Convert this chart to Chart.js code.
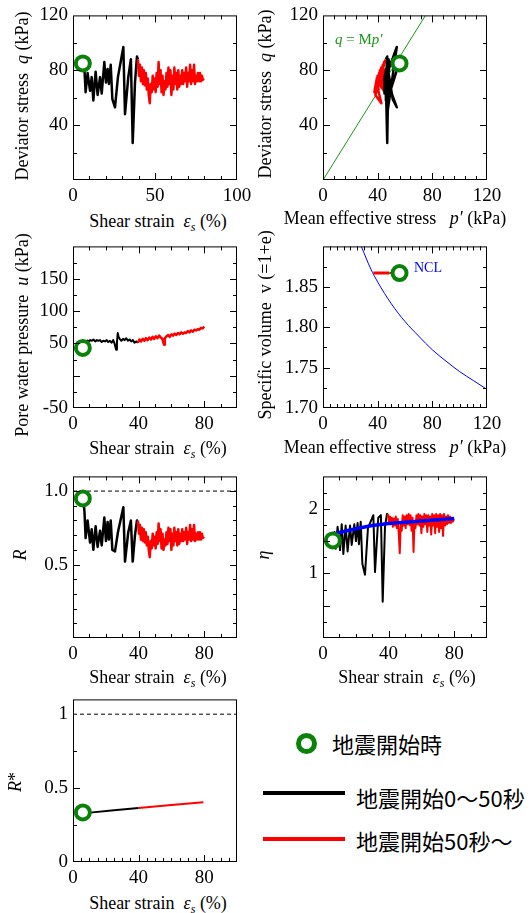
<!DOCTYPE html>
<html>
<head>
<meta charset="utf-8">
<script src="https://cdn.jsdelivr.net/npm/chart.js@4.4.0/dist/chart.umd.min.js"></script>
<style>
  body { margin: 0; background: #fff; }
  #fig { position: relative; width: 531px; height: 913px; overflow: hidden; font-family: "Liberation Serif", "Times New Roman", serif; color: #000; }
  canvas { position: absolute; }
  .xt, .yt { position: absolute; width: 300px; font-size: 18px; line-height: 22px; text-align: center; white-space: nowrap; }
  .yt { transform: rotate(-90deg); }
  sub { font-size: 12px; line-height: 0; vertical-align: -4px; }
  .note { position: absolute; white-space: nowrap; line-height: 16px; }
  .leg { position: absolute; font-family: "Noto Sans CJK JP", sans-serif; font-size: 22px; line-height: 26px; white-space: nowrap; }
</style>
</head>
<body>
<div id="fig"></div>
<script>
// start of earthquake (green circle)
const startEps = [6];
const startQ = [85];
const startP = [56];
const startU = [43];
const startV = [1.867];
const startR = [0.95];
const startEta = [1.51];
const startRs = [0.335];

// 0-50 s (black)
const epsBlack = [6.3, 7.0, 7.7, 8.9, 10.4, 11.4, 12.4, 13.8, 15.0, 16.5, 17.5, 19.1, 20.1, 21.1, 21.9, 23.0, 24.0, 25.6, 27.4, 30.7, 31.7, 33.7, 35.3, 36.4, 37.8, 39.0, 39.6];
const qBlack = [84, 80, 64, 78, 65, 75, 58, 79, 62, 75, 63, 86, 71, 81, 70, 84, 59, 53, 75, 97, 48, 75, 88, 27, 71, 90, 88];
const pBlack = [56, 54, 49, 47, 48, 46, 46, 47, 48, 45, 45, 49, 47, 46, 48, 47, 51, 54, 46, 54, 47, 45, 48, 47, 46, 47, 46];
const rBlack = [0.94, 0.86, 0.68, 0.80, 0.65, 0.74, 0.60, 0.76, 0.62, 0.73, 0.63, 0.82, 0.66, 0.79, 0.67, 0.80, 0.60, 0.59, 0.72, 0.89, 0.52, 0.72, 0.80, 0.52, 0.70, 0.80, 0.80];
const etaBlack = [1.52, 1.64, 1.38, 1.72, 1.36, 1.76, 1.30, 1.74, 1.34, 1.74, 1.44, 1.76, 1.50, 1.78, 1.45, 1.80, 1.15, 0.98, 1.70, 1.90, 1.02, 1.86, 1.90, 0.56, 1.72, 1.92, 1.92];

// 50 s - (red)
const epsRed = [39.6, 40.2, 40.8, 41.4, 42.0, 42.6, 43.2, 43.8, 44.4, 45.0, 45.6, 46.2, 46.8, 47.4, 48.0, 48.6, 49.2, 49.8, 50.4, 51.0,
  51.6, 52.2, 52.8, 53.4, 54.0, 54.6, 55.2, 55.8, 56.4, 57.0, 57.6, 58.2, 58.8, 59.4, 60.0, 60.6, 61.2, 61.8, 62.4, 63.0,
  63.6, 64.2, 64.8, 65.4, 66.0, 66.6, 67.2, 67.8, 68.4, 69.0, 69.6, 70.2, 70.8, 71.4, 72.0, 72.6, 73.2, 73.8, 74.4, 75.0,
  75.6, 76.2, 76.8, 77.4, 78.0, 78.6, 79.2, 79.8];
const qRed = [88, 76, 84, 72, 82, 70, 80, 69, 78, 66, 74, 62, 56, 70, 64, 76, 66, 74, 64, 78,
  68, 86, 70, 80, 64, 76, 62, 72, 66, 78, 68, 82, 70, 80, 62, 76, 66, 82, 70, 78,
  66, 80, 68, 76, 70, 80, 70, 78, 72, 82, 68, 78, 72, 84, 70, 80, 72, 84, 70, 76,
  72, 78, 72, 78, 72, 76, 73, 74];
const pRed = [45.8, 42.2, 44.7, 40.9, 44.1, 40.7, 43.2, 39.7, 41.5, 38.8, 40.2, 38.3, 42.7, 39.3, 38.6, 40.0, 37.9, 39.4, 37.6, 41.1,
  38.6, 44.8, 40.0, 42.1, 38.6, 40.9, 46.6, 40.0, 38.8, 41.1, 38.6, 42.7, 40.2, 42.1, 38.3, 40.4, 38.4, 42.7, 39.8, 41.1,
  40.2, 42.1, 39.1, 40.4, 43.8, 41.7, 40.2, 41.1, 44.4, 42.7, 39.5, 41.1, 43.9, 43.8, 41.2, 42.1, 45.6, 43.8, 40.2, 40.4,
  40.9, 41.1, 40.4, 41.5, 40.4, 40.9, 40.6, 40.2];
const rRed = [0.80, 0.71, 0.77, 0.67, 0.75, 0.66, 0.74, 0.65, 0.72, 0.63, 0.69, 0.60, 0.55, 0.66, 0.61, 0.71, 0.63, 0.69, 0.61, 0.72,
  0.64, 0.78, 0.66, 0.74, 0.61, 0.71, 0.60, 0.67, 0.63, 0.72, 0.64, 0.75, 0.66, 0.74, 0.60, 0.71, 0.63, 0.75, 0.66, 0.72,
  0.63, 0.74, 0.64, 0.71, 0.66, 0.74, 0.66, 0.72, 0.67, 0.75, 0.64, 0.72, 0.67, 0.77, 0.66, 0.74, 0.67, 0.77, 0.66, 0.71,
  0.67, 0.72, 0.67, 0.72, 0.67, 0.71, 0.68, 0.69];
const etaRed = [1.92, 1.80, 1.88, 1.76, 1.86, 1.72, 1.85, 1.74, 1.88, 1.70, 1.84, 1.62, 1.31, 1.78, 1.66, 1.90, 1.74, 1.88, 1.70, 1.90,
  1.76, 1.92, 1.75, 1.90, 1.66, 1.86, 1.33, 1.80, 1.70, 1.90, 1.76, 1.92, 1.74, 1.90, 1.62, 1.88, 1.72, 1.92, 1.76, 1.90,
  1.64, 1.90, 1.74, 1.88, 1.60, 1.92, 1.74, 1.90, 1.62, 1.92, 1.72, 1.90, 1.64, 1.92, 1.70, 1.90, 1.58, 1.92, 1.74, 1.88,
  1.76, 1.90, 1.78, 1.88, 1.78, 1.86, 1.80, 1.84];

// pore water pressure
const epsUBlack = [8.5, 9.5, 10.5, 11.5, 12.5, 13.5, 14.5, 15.5, 16.5, 17.5, 18.5, 19.5, 20.5, 21.5, 22.5, 23.5, 24.5,
  25.3, 25.8, 26.3, 26.8, 27.3, 27.8, 28.5, 29.5, 30.5, 31.5, 32.5, 33.5, 34.5, 35.5, 36.5, 37.5, 38.5, 39.6];
const uBlack = [55, 53, 55, 54, 56, 53, 55, 54, 55, 52, 54, 53, 55, 52, 54, 51, 55,
  50, 45, 40, 52, 66, 60, 57, 54, 57, 55, 58, 54, 56, 53, 55, 51, 53, 51];
const epsURed = [39.6, 40.5, 41.5, 42.5, 43.5, 44.5, 45.5, 46.5, 47.5, 48.5, 49.5, 50.5, 51.5, 52.5, 53.5, 54.5, 55.0, 55.5, 56.0, 57.0,
  58, 59, 60, 61, 62, 63, 64, 65, 66, 67, 68, 69, 70, 71, 72, 73, 74, 75, 76, 77, 78, 79, 80];
const uRed = [51, 56, 53, 57, 54, 58, 55, 59, 56, 60, 57, 61, 58, 62, 59, 57, 52, 48, 58, 61,
  63, 60, 64, 62, 65, 63, 66, 64, 67, 65, 67, 66, 69, 67, 70, 68, 71, 70, 72, 71, 74, 73, 76];

// specific volume
const vpRed = [36.8, 48.5];
const vRed = [1.867, 1.867];
const vpBlack = [48.5, 53.5];
const vBlack = [1.867, 1.867];
const nclP = [28, 35, 40, 50, 60, 70, 80, 90, 100, 110, 120];
const nclV = [1.900, 1.872, 1.856, 1.829, 1.807, 1.789, 1.772, 1.758, 1.745, 1.734, 1.723];

// q = Mp'
const cslP = [0, 75];
const cslQ = [0, 120];

// eta trend (blue)
const etaFitEps = [8, 20, 30, 40, 50, 60, 70, 80];
const etaFit = [1.62, 1.69, 1.74, 1.77, 1.79, 1.81, 1.83, 1.85];

// R*
const rsEpsBlack = [10.4, 25, 40];
const rsBlack = [0.334, 0.350, 0.366];
const rsEpsRed = [40, 60, 79.5];
const rsRed = [0.366, 0.386, 0.405];

// R = 1 reference
const refX = [0, 100];
const refOne = [1, 1];

// tick labels
const ticksStrain100 = [0, 50, 100];
const ticksStrain80 = [0, 40, 80];
const ticksStress = [0, 40, 80, 120];
const ticksQ = [40, 80, 120];
const ticksU = [-50, 50, 100, 150];
const ticksV = [1.70, 1.75, 1.80, 1.85];
const ticksR = [0.5, 1.0];
const ticksEta = [1, 2];
const ticksRs = [0, 0.5, 1];

const fig = document.getElementById("fig");
const GREEN = "#0a820a";

const xy = (xs, ys) => xs.map((x, i) => ({ x: x, y: ys[i] }));

const line = (xs, ys, color, width, extra) => Object.assign({
  data: xy(xs, ys),
  borderColor: color,
  borderWidth: width,
  borderJoinStyle: "round",
  pointRadius: 0,
  tension: 0,
  fill: false,
}, extra || {});

const dot = (xs, ys) => ({
  data: xy(xs, ys),
  showLine: false,
  pointRadius: 7,
  pointBorderWidth: 4,
  pointBorderColor: GREEN,
  pointBackgroundColor: "#fff",
});

// inward tick marks + frame
const boxTicks = (marks) => ({
  id: "boxTicks",
  afterDraw(chart) {
    const { ctx, chartArea: a, scales } = chart;
    ctx.save();
    ctx.strokeStyle = "#000";
    ctx.lineWidth = 1;
    ctx.strokeRect(a.left + 0.5, a.top + 0.5, a.width - 1, a.height - 1);
    ctx.beginPath();
    ["x", "y"].forEach((id) => {
      const s = scales[id];
      const [minor, major, sides] = marks[id];
      const n = Math.round((s.max - s.min) / minor);
      for (let i = 1; i < n; i++) {
        const v = s.min + i * minor;
        const len = Math.abs(v / major - Math.round(v / major)) < 1e-6 ? 7 : 4;
        const p = Math.round(s.getPixelForValue(v)) + 0.5;
        if (id === "x") {
          if (sides.includes("b")) { ctx.moveTo(p, a.bottom); ctx.lineTo(p, a.bottom - len); }
          if (sides.includes("t")) { ctx.moveTo(p, a.top); ctx.lineTo(p, a.top + len); }
        } else {
          if (sides.includes("l")) { ctx.moveTo(a.left, p); ctx.lineTo(a.left + len, p); }
          if (sides.includes("r")) { ctx.moveTo(a.right, p); ctx.lineTo(a.right - len, p); }
        }
      }
    });
    ctx.stroke();
    ctx.restore();
  },
});

const axis = (a, dir) => ({
  type: "linear",
  min: a.min,
  max: a.max,
  grid: { display: false, drawTicks: false },
  border: { display: false },
  ticks: {
    padding: dir === "x" ? 5 : 5,
    color: "#000",
    font: { size: 19 },
    maxRotation: 0,
    autoSkip: false,
    callback: (v) => (a.fmt ? a.fmt(v) : String(v)),
  },
  afterBuildTicks: (s) => { s.ticks = a.labels.map((v) => ({ value: v })); },
  afterFit: (s) => { if (dir === "x") s.height = 30; else s.width = 55; },
});

const addText = (cls, html, cx, cy) => {
  const d = document.createElement("div");
  d.className = cls;
  d.innerHTML = html;
  d.style.left = (cx - 150) + "px";
  d.style.top = (cy - 11) + "px";
  fig.appendChild(d);
};

const makePanel = (p) => {
  const [l, t, r, b] = p.box;
  const canvas = document.createElement("canvas");
  canvas.width = r - l + 55 + 24;
  canvas.height = b - t + 16 + 30;
  canvas.style.left = (l - 55) + "px";
  canvas.style.top = (t - 16) + "px";
  fig.appendChild(canvas);

  new Chart(canvas, {
    type: "line",
    data: { datasets: p.datasets },
    options: {
      responsive: false,
      animation: false,
      events: [],
      layout: { padding: { left: 0, top: 16, right: 24, bottom: 0 } },
      plugins: { legend: { display: false }, tooltip: { enabled: false } },
      scales: { x: axis(p.x, "x"), y: axis(p.y, "y") },
    },
    plugins: [boxTicks(p.marks)],
  });

  addText("xt", p.xTitle[0], p.xTitle[1], p.xTitle[2]);
  addText("yt", p.yTitle[0], p.yTitle[1], p.yTitle[2]);
};

Chart.defaults.font.family = '"Liberation Serif", "Times New Roman", serif';
Chart.defaults.color = "#000";

const strainTitle = "Shear strain&nbsp;&nbsp;<i>ε<sub>s</sub></i> (%)";
const stressTitle = "Mean effective stress&nbsp;&nbsp;&nbsp;<i>p′</i> (kPa)";

// q - strain
makePanel({
  box: [73, 15, 237, 180],
  x: { min: 0, max: 100, labels: ticksStrain100 },
  y: { min: 0, max: 120, labels: ticksQ },
  marks: { x: [10, 50, "bt"], y: [20, 40, "lr"] },
  xTitle: [strainTitle, 158, 221],
  yTitle: ["Deviator stress&nbsp;&nbsp;<i>q</i> (kPa)", 22, 96],
  datasets: [
    dot(startEps, startQ),
    line(epsRed, qRed, "#ff0000", 2.5),
    line(epsBlack, qBlack, "#000", 2.5),
  ],
});

// q - p'
makePanel({
  box: [323, 15, 487, 180],
  x: { min: 0, max: 120, labels: ticksStress },
  y: { min: 0, max: 120, labels: ticksQ },
  marks: { x: [8, 40, "bt"], y: [20, 40, "lr"] },
  xTitle: [stressTitle, 395, 218],
  yTitle: ["Deviator stress&nbsp;&nbsp;<i>q</i> (kPa)", 265, 94],
  datasets: [
    dot(startP, startQ),
    line(pBlack, qBlack, "#000", 2.5),
    line(pRed, qRed, "#ff0000", 2.5),
    line(cslP, cslQ, "#1a961a", 1),
  ],
});

// u - strain
makePanel({
  box: [73, 246, 237, 408],
  x: { min: 0, max: 100, labels: ticksStrain80 },
  y: { min: -50, max: 200, labels: ticksU },
  marks: { x: [10, 40, "bt"], y: [25, 50, "lr"] },
  xTitle: [strainTitle, 158, 448],
  yTitle: ["Pore water pressure&nbsp;&nbsp;<i>u</i> (kPa)", 22, 335],
  datasets: [
    dot(startEps, startU),
    line(epsURed, uRed, "#ff0000", 2.5),
    line(epsUBlack, uBlack, "#000", 2),
  ],
});

// v - p'
makePanel({
  box: [323, 246, 487, 408],
  x: { min: 0, max: 120, labels: ticksStress },
  y: { min: 1.7, max: 1.9, labels: ticksV, fmt: (v) => v.toFixed(2) },
  marks: { x: [5, 40, "bt"], y: [0.025, 0.05, "lr"] },
  xTitle: [stressTitle, 395, 447],
  yTitle: ["Specific volume&nbsp;&nbsp;v (=1+e)", 265, 325],
  datasets: [
    dot(startP, startV),
    line(vpRed, vRed, "#ff0000", 3),
    line(vpBlack, vBlack, "#000", 1.5),
    line(nclP, nclV, "#0000ff", 1, { cubicInterpolationMode: "monotone" }),
  ],
});

// R - strain
makePanel({
  box: [73, 476, 237, 638],
  x: { min: 0, max: 100, labels: ticksStrain80 },
  y: { min: 0, max: 1.1, labels: ticksR, fmt: (v) => v.toFixed(1) },
  marks: { x: [10, 40, "bt"], y: [0.1, 0.5, "lr"] },
  xTitle: [strainTitle, 158, 677],
  yTitle: ["<i>R</i>", 20, 555],
  datasets: [
    dot(startEps, startR),
    line(epsRed, rRed, "#ff0000", 2.5),
    line(epsBlack, rBlack, "#000", 2.5),
    line(refX, refOne, "#000", 1, { borderDash: [4, 3] }),
  ],
});

// eta - strain
makePanel({
  box: [323, 476, 487, 638],
  x: { min: 0, max: 100, labels: ticksStrain80 },
  y: { min: 0, max: 2.5, labels: ticksEta },
  marks: { x: [10, 40, "bt"], y: [0.25, 0.5, "lr"] },
  xTitle: [strainTitle, 407, 677],
  yTitle: ["<i>η</i>", 263, 555],
  datasets: [
    dot(startEps, startEta),
    line(etaFitEps, etaFit, "#0000ff", 3.5),
    line(epsRed, etaRed, "#ff0000", 2),
    line(epsBlack, etaBlack, "#000", 2),
  ],
});

// R* - strain
makePanel({
  box: [73, 699, 237, 862],
  x: { min: 0, max: 100, labels: ticksStrain80 },
  y: { min: 0, max: 1.1, labels: ticksRs, fmt: (v) => String(v) },
  marks: { x: [5, 40, "b"], y: [0.25, 0.5, "l"] },
  xTitle: [strainTitle, 158, 903],
  yTitle: ["<i>R</i>*", 15, 782],
  datasets: [
    dot(startEps, startRs),
    line(rsEpsRed, rsRed, "#ff0000", 2),
    line(rsEpsBlack, rsBlack, "#000", 2),
    line(refX, refOne, "#000", 1, { borderDash: [4, 3] }),
  ],
});

// annotations
const note = (html, left, cy, size, color) => {
  const d = document.createElement("div");
  d.className = "note";
  d.innerHTML = html;
  d.style.left = left + "px";
  d.style.top = (cy - 8) + "px";
  d.style.fontSize = size + "px";
  d.style.color = color;
  fig.appendChild(d);
};
note("<i>q</i> = M<i>p′</i>", 335, 39, 15, "#1a961a");
note("NCL", 414, 268, 14, "#0000ff");

// legend
const box = (left, top, w, h, css) => {
  const d = document.createElement("div");
  d.style.cssText = `position:absolute;left:${left}px;top:${top}px;width:${w}px;height:${h}px;box-sizing:border-box;${css}`;
  fig.appendChild(d);
};
const legText = (text, left, cy) => {
  const d = document.createElement("div");
  d.className = "leg";
  d.textContent = text;
  d.style.left = left + "px";
  d.style.top = (cy - 13) + "px";
  fig.appendChild(d);
};
box(296, 733, 21, 21, `border:5px solid ${GREEN};border-radius:50%;`);
legText("地震開始時", 332, 743);
box(263, 791, 82, 4, "background:#000;");
legText("地震開始0～50秒", 356, 797);
box(263, 837, 82, 4, "background:#ff0000;");
legText("地震開始50秒～", 356, 840);
</script>
</body>
</html>
